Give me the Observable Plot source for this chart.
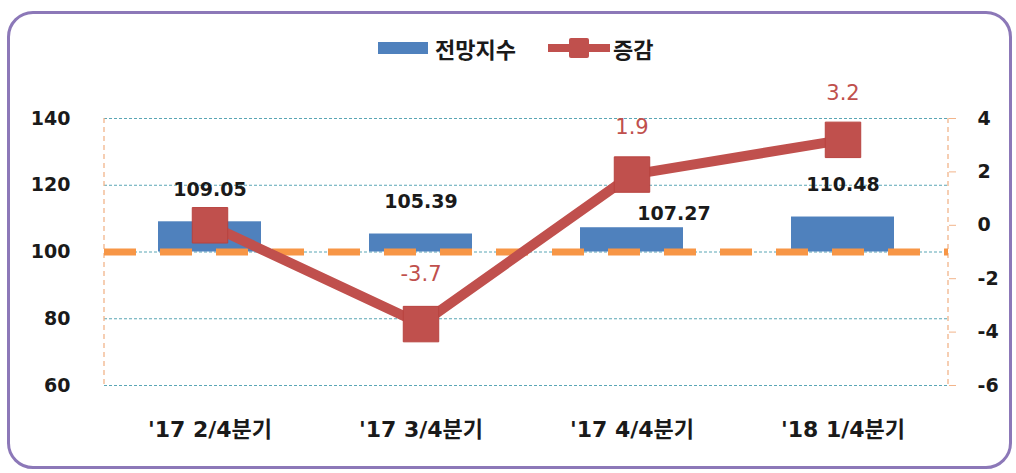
<!DOCTYPE html>
<html><head><meta charset="utf-8">
<script src="https://cdn.jsdelivr.net/npm/d3@7"></script>
<script src="https://cdn.jsdelivr.net/npm/@observablehq/plot@0.6"></script>
<style>
body{margin:0;background:#fff;}
#wrap{position:relative;width:1016px;height:473px;font-family:"DejaVu Sans","Noto Sans CJK KR",sans-serif;}
#border{position:absolute;left:7px;top:11px;width:1005px;height:458px;border:3px solid #8c78b8;border-radius:26px;box-sizing:border-box;pointer-events:none;}
#legend{position:absolute;top:36px;left:378px;display:flex;align-items:center;height:24px;font-weight:bold;font-size:22px;line-height:24px;color:#1a1a1a;font-family:"Noto Sans CJK KR",sans-serif;}
#legend .sw{display:inline-block;width:50px;height:12px;background:#4f81bd;margin-right:7px;}
#legend .ln{position:relative;display:inline-block;width:62px;height:24px;margin:0 3px 0 32px;}
#legend .ln:before{content:"";position:absolute;left:0;right:0;top:8px;height:8px;background:#c0504d;}
#legend .ln i{position:absolute;left:21px;top:2px;width:20px;height:20px;background:#c0504d;border-radius:2px;}
svg text{font-family:"DejaVu Sans","Noto Sans CJK KR",sans-serif;}
</style></head><body>
<div id="wrap"><div id="chart"></div><div id="legend"></div><div id="border"></div></div>
<script>
const categories = ["'17 2/4분기", "'17 3/4분기", "'17 4/4분기", "'18 1/4분기"];
const outlook = [109.05, 105.39, 107.27, 110.48];
const change = [0, -3.7, 1.9, 3.2];
const leftTicks = [60, 80, 100, 120, 140];
const rightTicks = [-6, -4, -2, 0, 2, 4];
const seriesNames = ["전망지수", "증감"];
const baseline = 100;

const leftDomain = [leftTicks[0], leftTicks[leftTicks.length - 1]];
const rightDomain = [rightTicks[0], rightTicks[rightTicks.length - 1]];
const k = (leftDomain[1] - leftDomain[0]) / (rightDomain[1] - rightDomain[0]);
const toLeft = v => leftDomain[0] + (v - rightDomain[0]) * k;
const toRight = v => rightDomain[0] + (v - leftDomain[0]) / k;

const data = categories.map((c, i) => ({cat: c, outlook: outlook[i], change: change[i], changeY: toLeft(change[i]), i}));

function sideLines(index, scales, values, dims) {
  const g = d3.create("svg:g");
  const y0 = scales.y(leftDomain[1]), y1 = scales.y(leftDomain[0]);
  for (const x of [dims.marginLeft, dims.width - dims.marginRight]) {
    g.append("line").attr("x1", x).attr("x2", x).attr("y1", y0).attr("y2", y1)
      .attr("stroke", "#f2b48a").attr("stroke-width", 1.3).attr("stroke-dasharray", "5,4");
  }
  return g.node();
}

const labelFont = {fontSize: 19, fontWeight: "bold", fill: "#1a1a1a"};
const chgFont = {fontSize: 21, fill: "#c0504d"};

const plot = Plot.plot({
  width: 1016, height: 473,
  marginLeft: 104, marginRight: 68, marginTop: 118, marginBottom: 88,
  style: {fontFamily: "DejaVu Sans, Noto Sans CJK KR, sans-serif", fontSize: "18px", color: "#1a1a1a", background: "transparent"},
  x: {domain: categories, paddingInner: 0.51, paddingOuter: 0.255, label: null, axis: null},
  y: {domain: leftDomain, label: null, axis: null},
  marks: [
    Plot.ruleY(leftTicks, {stroke: "#5aa6b5", strokeWidth: 1, strokeDasharray: "3,2"}),
    sideLines,
    Plot.barY(data, {x: "cat", y1: baseline, y2: "outlook", fill: "#4f81bd"}),
    Plot.ruleY([baseline], {stroke: "#f79646", strokeWidth: 7, strokeDasharray: "32,24"}),
    Plot.line(data, {x: "cat", y: "changeY", stroke: "#c0504d", strokeWidth: 10}),
    Plot.dot(data, {x: "cat", y: "changeY", symbol: "square", r: 20, fill: "#c0504d", stroke: "#b8433f", strokeWidth: 1}),
    Plot.axisY({anchor: "left", ticks: leftTicks, tickSize: 0, tickPadding: 34, fontSize: 19, fontWeight: "bold", label: null}),
    Plot.axisY({anchor: "right", ticks: rightTicks.map(toLeft), tickFormat: v => String(Math.round(toRight(v))), tickSize: 7, tickPadding: 22, stroke: "#f2b48a", fill: "#1a1a1a", fontSize: 19, fontWeight: "bold", label: null}),
    Plot.axisX({tickSize: 0, tickPadding: 36, fontSize: 22, fontWeight: "bold", label: null}),
    Plot.text(data, {filter: d => d.i !== 2, x: "cat", y: "outlook", text: d => d.outlook.toFixed(2), dy: -32, ...labelFont}),
    Plot.text(data, {filter: d => d.i === 2, x: "cat", y: "outlook", text: d => d.outlook.toFixed(2), dx: 42, dy: -14, ...labelFont}),
    Plot.text(data, {filter: d => d.i > 0 && d.change > 0, x: "cat", y: "changeY", text: d => d.change.toFixed(1), dy: -47, ...chgFont}),
    Plot.text(data, {filter: d => d.change < 0, x: "cat", y: "changeY", text: d => d.change.toFixed(1).replace("−", "-"), dy: -50, ...chgFont})
  ]
});
document.getElementById("chart").appendChild(plot);

const lg = document.getElementById("legend");
lg.innerHTML = `<span class="sw"></span><span>${seriesNames[0]}</span><span class="ln"><i></i></span><span>${seriesNames[1]}</span>`;
</script>
</body></html>
